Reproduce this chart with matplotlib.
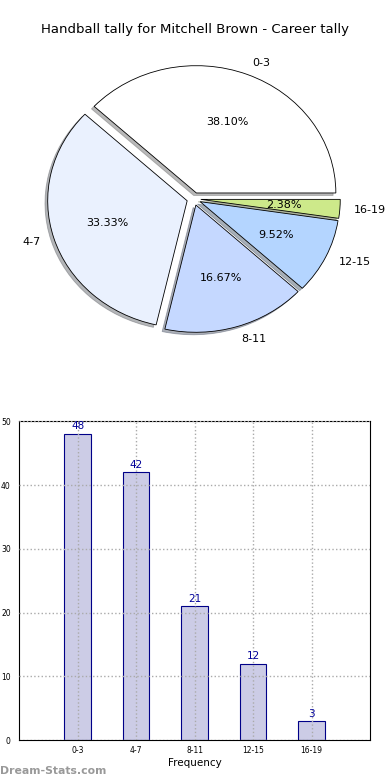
#!/usr/bin/env python3
import matplotlib
matplotlib.use("Agg")
import matplotlib.pyplot as plt

ranges = ["0-3", "4-7", "8-11", "12-15", "16-19"]
tally = [48, 42, 21, 12, 3]
slice_colors = ["#ffffff", "#eaf1fe", "#c5d8ff", "#b4d5ff", "#cde98a"]

fig = plt.figure(figsize=(3.9, 7.8), dpi=100)
fig.text(0.5, 1 - 30 / 780, "Handball tally for Mitchell Brown - Career tally",
         ha="center", va="center", fontsize=9.5)

# pie on top
ax = fig.add_axes([0.05, 0.541, 0.894, 0.408])
wedges, texts, autotexts = ax.pie(
    tally, labels=ranges, colors=slice_colors, autopct="%.2f%%",
    explode=[0.05] * len(tally), startangle=0,
    shadow=dict(ox=-0.014, oy=-0.014, shade=0.55),
    wedgeprops=dict(edgecolor="black", linewidth=0.6),
    textprops=dict(fontsize=8))
ax.set_aspect("auto")
ax.set_xlim(-1.25, 1.25)
ax.set_ylim(-1.25, 1.25)

# bars below
bx = fig.add_axes([0.049, 0.051, 0.9, 0.409])
pos = list(range(len(tally)))
bars = bx.bar(pos, tally, width=0.45, color="#ccccE6", edgecolor="#000088",
              linewidth=0.8)
for p, v in zip(pos, tally):
    bx.text(p, v + 0.4, str(v), ha="center", va="bottom", fontsize=7.5,
            color="#000099")
bx.set_xlim(-1, 5)
bx.set_ylim(0, 50)
bx.set_xticks(pos)
bx.set_xticklabels(ranges, fontsize=5.5)
bx.set_yticks([0, 10, 20, 30, 40, 50])
bx.tick_params(axis="y", labelsize=5.5, length=0, pad=6)
bx.tick_params(axis="x", length=0, pad=4)
bx.grid(True, linestyle=":", color="#aaaaaa", linewidth=1)
bx.set_axisbelow(False)
bx.set_xlabel("Frequency", fontsize=7.5, labelpad=2)

fig.text(0.0, 0.012, "Dream-Stats.com", fontsize=7.8, color="#999999",
         fontweight="bold", ha="left", va="center")

plt.savefig("out.png", dpi=100)
